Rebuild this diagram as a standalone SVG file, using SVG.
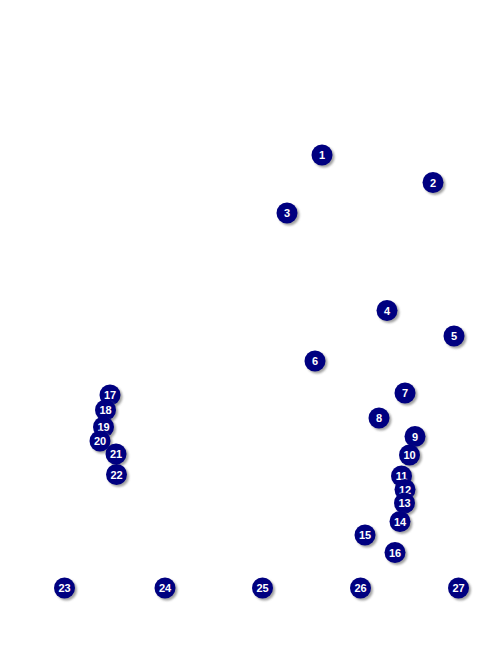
<svg xmlns="http://www.w3.org/2000/svg" width="482" height="650" viewBox="0 0 482 650">
<style>
.sh{fill:#8a8a8a;opacity:0.8}
.c{fill:#000080}
.t{fill:#fff;font-family:"Liberation Sans",Arial,sans-serif;font-weight:bold;font-size:11px;text-anchor:middle;dominant-baseline:central}
</style>
<defs>
<filter id="b" x="-50%" y="-50%" width="200%" height="200%"><feGaussianBlur stdDeviation="0.8"/></filter>
<g id="m"><circle class="sh" cx="2" cy="2" r="10.5" filter="url(#b)"/><circle class="c" r="10.5"/></g>
</defs>
<rect width="482" height="650" fill="#fff"/>
<g id="connectors"></g>
<g id="n1" transform="translate(322,155)"><use href="#m"/><text class="t">1</text></g>
<g id="n2" transform="translate(433,182.5)"><use href="#m"/><text class="t">2</text></g>
<g id="n3" transform="translate(287,213)"><use href="#m"/><text class="t">3</text></g>
<g id="n4" transform="translate(387,310.5)"><use href="#m"/><text class="t">4</text></g>
<g id="n5" transform="translate(454,336)"><use href="#m"/><text class="t">5</text></g>
<g id="n6" transform="translate(315,361)"><use href="#m"/><text class="t">6</text></g>
<g id="n7" transform="translate(405,393)"><use href="#m"/><text class="t">7</text></g>
<g id="n8" transform="translate(379,418)"><use href="#m"/><text class="t">8</text></g>
<g id="n9" transform="translate(415,436.5)"><use href="#m"/><text class="t">9</text></g>
<g id="n10" transform="translate(409.5,455)"><use href="#m"/><text class="t">10</text></g>
<g id="n11" transform="translate(401.5,476)"><use href="#m"/><text class="t">11</text></g>
<g id="n12" transform="translate(405,489.5)"><use href="#m"/><text class="t">12</text></g>
<g id="n13" transform="translate(404.5,503)"><use href="#m"/><text class="t">13</text></g>
<g id="n14" transform="translate(400,521.5)"><use href="#m"/><text class="t">14</text></g>
<g id="n15" transform="translate(365,535)"><use href="#m"/><text class="t">15</text></g>
<g id="n16" transform="translate(395,552.5)"><use href="#m"/><text class="t">16</text></g>
<g id="n17" transform="translate(110,395)"><use href="#m"/><text class="t">17</text></g>
<g id="n18" transform="translate(105.5,410)"><use href="#m"/><text class="t">18</text></g>
<g id="n19" transform="translate(103.5,427)"><use href="#m"/><text class="t">19</text></g>
<g id="n20" transform="translate(100,441)"><use href="#m"/><text class="t">20</text></g>
<g id="n21" transform="translate(116,454)"><use href="#m"/><text class="t">21</text></g>
<g id="n22" transform="translate(116.5,474.5)"><use href="#m"/><text class="t">22</text></g>
<g id="n23" transform="translate(64.5,588)"><use href="#m"/><text class="t">23</text></g>
<g id="n24" transform="translate(165,588)"><use href="#m"/><text class="t">24</text></g>
<g id="n25" transform="translate(262.5,588)"><use href="#m"/><text class="t">25</text></g>
<g id="n26" transform="translate(360.5,588)"><use href="#m"/><text class="t">26</text></g>
<g id="n27" transform="translate(458.5,588)"><use href="#m"/><text class="t">27</text></g>
</svg>
